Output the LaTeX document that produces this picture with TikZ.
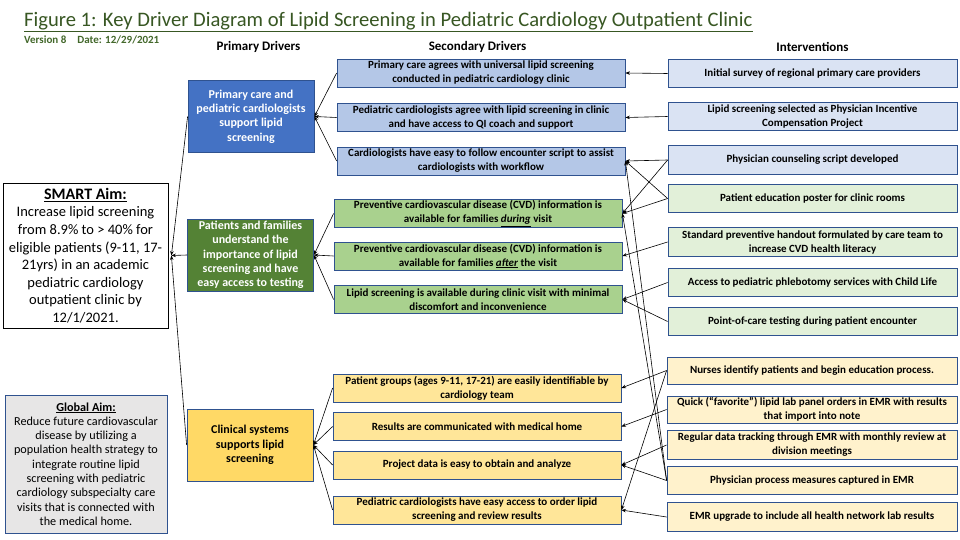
\documentclass[tikz,border=0pt]{standalone}
\usepackage{fontspec}
\setmainfont{Carlito}
\usetikzlibrary{arrows.meta}
\definecolor{bordblue}{HTML}{2F528F}
\definecolor{pblue}{HTML}{4472C4}
\definecolor{pgreen}{HTML}{548235}
\definecolor{pyellow}{HTML}{FFD966}
\definecolor{sblue}{HTML}{B4C7E7}
\definecolor{sgreen}{HTML}{A9D18E}
\definecolor{syellow}{HTML}{FFE699}
\definecolor{iblue}{HTML}{DAE3F3}
\definecolor{igreen}{HTML}{E2F0D9}
\definecolor{iyellow}{HTML}{FFF2CC}
\definecolor{ggray}{HTML}{E7E6E6}
\definecolor{titlegreen}{HTML}{385723}
\definecolor{vergreen}{HTML}{43682B}
\begin{document}
\begin{tikzpicture}[x=1pt,y=-1pt,
  box/.style={draw=bordblue, line width=0.8pt, inner sep=1pt, align=center,
    font=\bfseries\fontsize{11}{14}\selectfont},
  pd/.style={box, font=\bfseries\fontsize{12}{14.3}\selectfont,
    minimum width=126pt, minimum height=72pt},
  sd/.style={box, minimum width=288pt, minimum height=28pt},
  iv/.style={box, minimum width=289pt, minimum height=28.5pt},
  hdr/.style={font=\bfseries\fontsize{13}{15}\selectfont, inner sep=0pt},
  arr/.style={-{Stealth[length=4.5pt,width=3.5pt]}, line width=0.6pt}]
\useasboundingbox (0,0) rectangle (960,540);
\fill[white] (0,0) rectangle (960,540);

% title
\node[anchor=base west, inner sep=0pt, text=titlegreen,
  font=\fontsize{20.6}{23}\selectfont] (title) at (24,27)
  {Figure 1: Key Driver Diagram of Lipid Screening in Pediatric Cardiology Outpatient Clinic};
\draw[titlegreen, line width=1.6pt] ([yshift=-4.5pt]title.base west) -- ([yshift=-4.5pt]title.base east);
\node[anchor=base west, inner sep=0pt, text=vergreen,
  font=\bfseries\fontsize{11}{12}\selectfont] (version) at (24,44)
  {Version 8\hspace{11pt}Date: 12/29/2021};

% headers
\node[hdr] (h1) at (258.5,47) {Primary Drivers};
\node[hdr] (h2) at (477.5,47) {Secondary Drivers};
\node[hdr] (h3) at (812.5,47) {Interventions};

% aims
\node[draw=black, line width=0.8pt, fill=white, minimum width=165pt, minimum height=145pt,
  align=center, inner sep=0pt, font=\fontsize{14.5}{17.6}\selectfont] (smart) at (85.5,255.5)
  {{\bfseries\fontsize{16}{17.6}\selectfont\underline{SMART Aim:}}\\
   Increase lipid screening\\ from 8.9\% to > 40\% for\\ eligible patients (9-11, 17-\\
   21yrs) in an academic\\ pediatric cardiology\\ outpatient clinic by\\ 12/1/2021.};
\node[draw=bordblue, line width=0.8pt, fill=ggray, minimum width=162pt, minimum height=138pt,
  align=center, inner sep=0pt, font=\fontsize{12.2}{14.3}\selectfont] (global) at (86,464)
  {{\bfseries\underline{Global Aim:}}\\ Reduce future cardiovascular\\ disease by utilizing a\\
   population health strategy to\\ integrate routine lipid\\ screening with pediatric\\
   cardiology subspecialty care\\ visits that is connected with\\ the medical home.};

% primary drivers
\node[pd, fill=pblue, text=white] (p1) at (251,116.5)
  {Primary care and\\ pediatric cardiologists\\ support lipid\\ screening};
\node[pd, fill=pgreen, text=white] (p2) at (250.5,255)
  {Patients and families\\ understand the\\ importance of lipid\\ screening and have\\ easy access to testing};
\node[pd, fill=pyellow, text=black] (p3) at (250,445)
  {Clinical systems\\ supports lipid\\ screening};

% secondary drivers
\node[sd, fill=sblue] (s1) at (481,73)
  {Primary care agrees with universal lipid screening\\ conducted in pediatric cardiology clinic};
\node[sd, fill=sblue] (s2) at (481,117.5)
  {Pediatric cardiologists agree with lipid screening in clinic\\ and have access to QI coach and support};
\node[sd, fill=sblue] (s3) at (481,161)
  {Cardiologists have easy to follow encounter script to assist\\ cardiologists with workflow};
\node[sd, fill=sgreen] (s4) at (478,213.5)
  {Preventive cardiovascular disease (CVD) information is\\ available for families \underline{\textit{during}} visit};
\node[sd, fill=sgreen] (s5) at (478,256)
  {Preventive cardiovascular disease (CVD) information is\\ available for families \underline{\textit{after}} the visit};
\node[sd, fill=sgreen] (s6) at (478,299.5)
  {Lipid screening is available during clinic visit with minimal\\ discomfort and inconvenience};
\node[sd, fill=syellow] (s7) at (477,388)
  {Patient groups (ages 9-11, 17-21) are easily identifiable by\\ cardiology team};
\node[sd, fill=syellow] (s8) at (477,426.5)
  {Results are communicated with medical home};
\node[sd, fill=syellow] (s9) at (477,465)
  {Project data is easy to obtain and analyze};
\node[sd, fill=syellow] (s10) at (477,510)
  {Pediatric cardiologists have easy access to order lipid\\ screening and review results};

% interventions
\node[iv, fill=iblue] (i1) at (812.5,73.5) {Initial survey of regional primary care providers};
\node[iv, fill=iblue] (i2) at (812.5,116.5) {Lipid screening selected as Physician Incentive\\ Compensation Project};
\node[iv, fill=iblue] (i3) at (812.5,160) {Physician counseling script developed};
\node[iv, fill=igreen] (i4) at (812.5,198.5) {Patient education poster for clinic rooms};
\node[iv, fill=igreen] (i5) at (812.5,242) {Standard preventive handout formulated by care team to\\ increase CVD health literacy};
\node[iv, fill=igreen] (i6) at (812.5,282.5) {Access to pediatric phlebotomy services with Child Life};
\node[iv, fill=igreen] (i7) at (812.5,321.5) {Point-of-care testing during patient encounter};
\node[iv, fill=iyellow, minimum width=290pt, minimum height=27pt] (i8) at (812,370.5) {Nurses identify patients and begin education process.};
\node[iv, fill=iyellow, minimum width=290pt, minimum height=27pt] (i9) at (812,409.5) {Quick (“favorite”) lipid lab panel orders in EMR with results\\ that import into note};
\node[iv, fill=iyellow, minimum width=290pt] (i10) at (812,445) {Regular data tracking through EMR with monthly review at\\ division meetings};
\node[iv, fill=iyellow, minimum width=290pt] (i11) at (812,480.5) {Physician process measures captured in EMR};
\node[iv, fill=iyellow, minimum width=290pt] (i12) at (812,517) {EMR upgrade to include all health network lab results};

% primary -> aim
\coordinate (aimtip) at ([xshift=3pt]smart.east);
\foreach \p in {p1,p2,p3} \draw[arr] (\p.west) -- (aimtip);

% secondary -> primary
\foreach \s in {s1,s2,s3} \draw[arr] (\s.west) -- (p1.east);
\foreach \s in {s4,s5,s6} \draw[arr] (\s.west) -- (p2.east);
\foreach \s in {s7,s8,s9,s10} \draw[arr] (\s.west) -- (p3.east);

% interventions -> secondary
\draw[arr] (i1.west) -- (s1.east);
\draw[arr] (i2.west) -- (s2.east);
\draw[arr] (i3.west) -- (s3.east);
\draw[arr] (i3.west) -- (s4.east);
\draw[arr] (i4.west) -- (s3.east);
\draw[arr] (i4.west) -- (s4.east);
\draw[arr] (i11.west) -- (s3.east);
\draw[arr] (i11.west) -- (s4.east);
\draw[arr] (i5.west) -- (s5.east);
\draw[arr] (i6.west) -- (s6.east);
\draw[arr] (i7.west) -- (s6.east);
\draw[arr] (i8.west) -- (s7.east);
\draw[arr] (i8.west) -- (s10.east);
\draw[arr] (i9.west) -- (s8.east);
\draw[arr] (i10.west) -- (s9.east);
\draw[arr] (i11.west) -- (s9.east);
\draw[arr] (i12.west) -- (s10.east);
\end{tikzpicture}
\end{document}
